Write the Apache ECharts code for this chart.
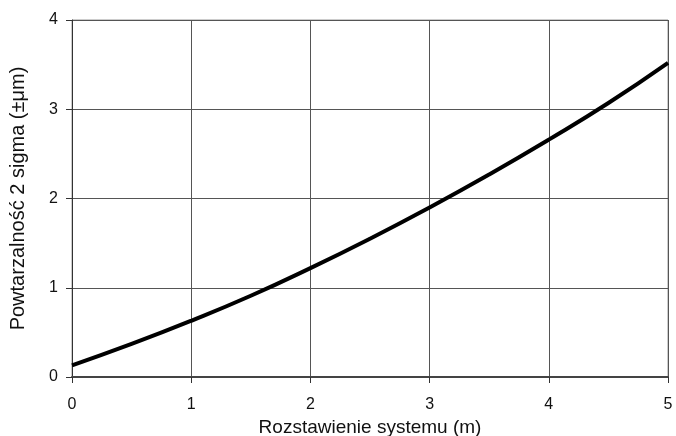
<!DOCTYPE html>
<html lang="pl">
<head>
    <meta charset="utf-8">
    <title>Powtarzalność</title>
    <script src="https://cdn.jsdelivr.net/npm/echarts@6/dist/echarts.min.js"></script>
    <style>
        html, body { margin: 0; padding: 0; background: #fff; }
        #chart { width: 676px; height: 436px; }
    </style>
</head>
<body>
<div id="chart"></div>
<script>
    // dane
    var xValues = [0, 0.5, 1, 1.5, 2, 2.5, 3, 3.5, 4, 4.5, 5];
    var yValues = [0.13, 0.37, 0.63, 0.91, 1.22, 1.55, 1.90, 2.27, 2.66, 3.07, 3.52];
    var xTicks = [0, 1, 2, 3, 4, 5];
    var yTicks = [0, 1, 2, 3, 4];

    var points = [];
    for (var i = 0; i < xValues.length; i++) {
        points.push([xValues[i], yValues[i]]);
    }

    var myChart = echarts.init(document.getElementById('chart'));
    var font = 'Liberation Sans, Arial, sans-serif';

    var option = {
        animation: false,
        grid: {
            left: 72,
            right: 8,
            top: 20,
            bottom: 59,
            outerBoundsMode: 'none',
            containLabel: false,
            show: true,
            borderColor: '#999',
            borderWidth: 1
        },
        xAxis: {
            type: 'value',
            min: xTicks[0],
            max: xTicks[xTicks.length - 1],
            interval: 1,
            name: 'Rozstawienie systemu (m)',
            nameLocation: 'middle',
            nameGap: 33,
            nameTextStyle: { color: '#111', fontSize: 19, fontFamily: font },
            axisLine: { lineStyle: { color: '#444', width: 2 } },
            axisTick: { show: true, length: 6, lineStyle: { color: '#333' } },
            axisLabel: { color: '#111', fontSize: 16, fontFamily: font, margin: 20 },
            splitLine: { show: true, lineStyle: { color: '#555', width: 1 } }
        },
        yAxis: {
            type: 'value',
            min: yTicks[0],
            max: yTicks[yTicks.length - 1],
            interval: 1,
            name: 'Powtarzalność 2 sigma (±μm)',
            nameLocation: 'middle',
            nameGap: 44,
            nameTextStyle: { color: '#111', fontSize: 20, fontFamily: font },
            axisLine: { show: true, lineStyle: { color: '#333', width: 1 } },
            axisTick: { show: true, length: 6, lineStyle: { color: '#333' } },
            axisLabel: { color: '#111', fontSize: 16, fontFamily: font, margin: 14 },
            splitLine: { show: true, lineStyle: { color: '#555', width: 1 } }
        },
        series: [
            {
                type: 'line',
                data: points,
                smooth: true,
                showSymbol: false,
                lineStyle: { color: '#000', width: 4 }
            }
        ]
    };

    myChart.setOption(option);
</script>
</body>
</html>
